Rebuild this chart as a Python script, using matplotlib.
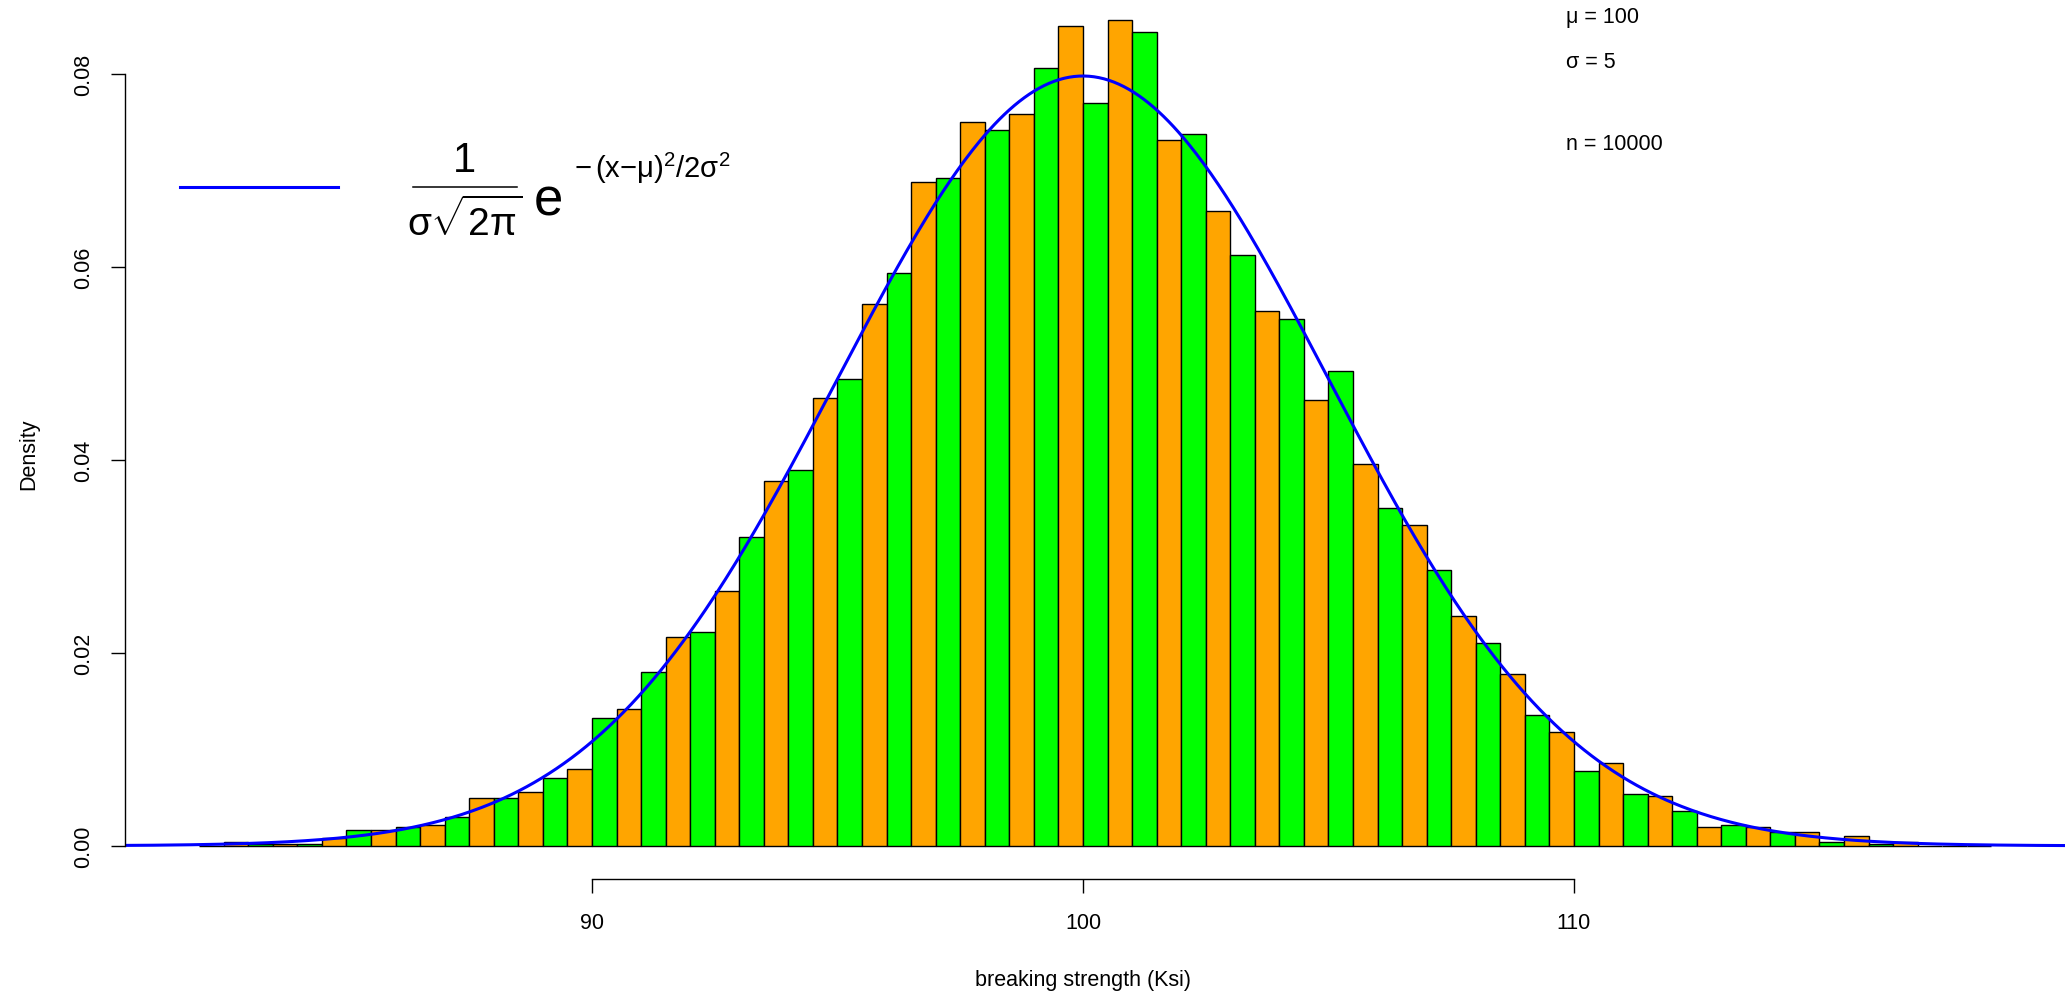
import numpy as np
import matplotlib
matplotlib.use("Agg")
import matplotlib.pyplot as plt

plt.rcParams['font.family'] = ['Liberation Sans', 'DejaVu Sans']
plt.rcParams['mathtext.fontset'] = 'custom'
plt.rcParams['mathtext.rm'] = 'Liberation Sans'
plt.rcParams['mathtext.it'] = 'Liberation Sans'
plt.rcParams['mathtext.bf'] = 'Liberation Sans:bold'

# histogram of 10000 draws, bins of width 0.5 from 82 to 118.5
bin_start = 82.0
bin_width = 0.5
density = [0.0000, 0.0004, 0.0002, 0.0002, 0.0002, 0.0008, 0.0016, 0.0016,
           0.0020, 0.0022, 0.0030, 0.0050, 0.0050, 0.0056, 0.0070, 0.0080,
           0.0132, 0.0142, 0.0180, 0.0216, 0.0222, 0.0264, 0.0320, 0.0378,
           0.0390, 0.0464, 0.0484, 0.0562, 0.0594, 0.0688, 0.0692, 0.0750,
           0.0742, 0.0758, 0.0806, 0.0850, 0.0770, 0.0856, 0.0844, 0.0732,
           0.0738, 0.0658, 0.0612, 0.0554, 0.0546, 0.0462, 0.0492, 0.0396,
           0.0350, 0.0332, 0.0286, 0.0238, 0.0210, 0.0178, 0.0136, 0.0118,
           0.0078, 0.0086, 0.0054, 0.0052, 0.0036, 0.0020, 0.0022, 0.0020,
           0.0014, 0.0014, 0.0004, 0.0010, 0.0002, 0.0004, 0.0000, 0.0000,
           0.0000]
bar_colors = ['#00FF00', '#FFA500']

mu = 100
sigma = 5
n = 10000

W, H = 2065, 995
fig = plt.figure(figsize=(W / 100, H / 100), dpi=100)
ax = fig.add_axes([125 / W, 115 / H, 1940 / W, 880 / H])

left = bin_start + bin_width * np.arange(len(density))
cols = [bar_colors[i % 2] for i in range(len(density))]
ax.bar(left, density, width=bin_width, align='edge', color=cols,
       edgecolor='black', linewidth=1.0)

xs = np.linspace(80.0, 120.5, 800)
ys = np.exp(-(xs - mu) ** 2 / (2 * sigma ** 2)) / (sigma * np.sqrt(2 * np.pi))
ax.plot(xs, ys, color='#0000FF', lw=2.2)

ax.set_xlim(80.49, 120.0)
ax.set_ylim(-0.00344, 0.08777)

for s in ['top', 'right']:
    ax.spines[s].set_visible(False)
ax.spines['left'].set_bounds(0, 0.08)
ax.spines['bottom'].set_bounds(90, 110)
ax.spines['left'].set_linewidth(1.0)
ax.spines['bottom'].set_linewidth(1.0)

ax.set_xticks([90, 100, 110])
ax.set_xticklabels(['90', '100', '110'])
yt = [0.00, 0.02, 0.04, 0.06, 0.08]
ax.set_yticks(yt)
ax.set_yticklabels(['%.2f' % v for v in yt], rotation=90, va='center')
ax.tick_params(axis='x', length=10, width=1, pad=14, labelsize=15.5)
ax.tick_params(axis='y', length=10, width=1, pad=12, labelsize=15.5)

fig.text(1083 / W, 1 - 981 / H, 'breaking strength (Ksi)', ha='center',
         va='center', fontsize=15.5)
fig.text(29 / W, 1 - 454 / H, 'Density', ha='center', va='center',
         rotation=90, fontsize=15.5)

# parameter notes
fig.text(1566 / W, 1 - 18 / H, 'μ = 100', ha='left', va='center', fontsize=15.5)
fig.text(1566 / W, 1 - 62 / H, 'σ = 5', ha='left', va='center', fontsize=15.5)
fig.text(1566 / W, 1 - 144 / H, 'n = %d' % n, ha='left', va='center', fontsize=15.5)

# legend: line + density formula
fig.add_artist(plt.Line2D([180 / W, 338 / W], [1 - 188 / H, 1 - 188 / H],
                          color='#0000FF', lw=2.2))
fig.text(464 / W, 1 - 161 / H, '1', ha='center', va='center', fontsize=30)
fig.add_artist(plt.Line2D([413 / W, 517 / W], [1 - 188 / H, 1 - 188 / H],
                          color='black', lw=1.1))
fig.text(465 / W, 1 - 221 / H, r'$\sigma\sqrt{2\pi}$', ha='center',
         va='center', fontsize=28)
fig.text(534 / W, 1 - 216 / H, 'e', ha='left', va='baseline', fontsize=38)
fig.text(574 / W, 1 - 178 / H, r'$-\,(x{-}\mu)^{2}/2\sigma^{2}$', ha='left',
         va='baseline', fontsize=21)

fig.savefig('out.png', dpi=100)
